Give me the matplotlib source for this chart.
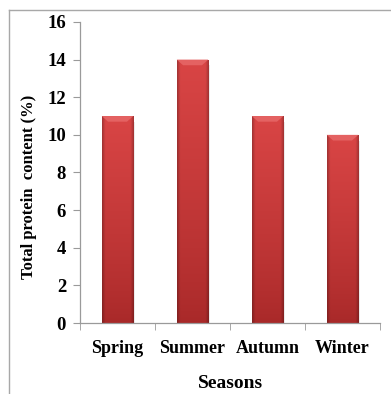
import numpy as np
import matplotlib

matplotlib.use("Agg")
import matplotlib.pyplot as plt
from matplotlib.lines import Line2D
from matplotlib.patches import Polygon

# ----------------- DATA -----------------
seasons = ["Spring", "Summer", "Autumn", "Winter"]
protein = [11, 14, 11, 10]
y_ticks = [0, 2, 4, 6, 8, 10, 12, 14, 16]
# -----------------------------------------

BAR_W = 0.42
AXIS_GRAY = "#9a9a9a"
FONT = "Liberation Serif"

# red fill: darker at the base, a touch darker at the left/right edges
top_rgb = np.array([0.85, 0.27, 0.27])
base_rgb = np.array([0.66, 0.16, 0.16])
v = np.linspace(0, 1, 128)[:, None, None]
u = np.linspace(0, 1, 64)
edge = 1 - 0.25 * (np.clip(1 - u / 0.1, 0, 1) + np.clip((u - 0.9) / 0.1, 0, 1))
rgb = (base_rgb + (top_rgb - base_rgb) * v ** 0.8) * edge[None, :, None]
shade = np.concatenate([rgb, np.ones((128, 64, 1))], axis=2)

fig = plt.figure(figsize=(3.91, 3.94), dpi=100)
ax = fig.add_axes([0.2046, 0.1802, 0.7674, 0.764])

bars = ax.bar(range(len(seasons)), protein, width=BAR_W, color="none", zorder=2)

for b in bars:
    x0, w, h = b.get_x(), b.get_width(), b.get_height()
    im = ax.imshow(shade, extent=[x0, x0 + w, 0, h], origin="lower",
                   aspect="auto", zorder=2, interpolation="bilinear")
    im.set_clip_path(b)
    # bevelled cap on top of each bar
    d, t = w * 0.2, 0.3
    ax.add_patch(Polygon([(x0, h), (x0 + w, h), (x0 + w - d, h - t), (x0 + d, h - t)],
                         closed=True, facecolor="#e46262", edgecolor="none", zorder=3))
    # faint drop shadow on the right
    ax.add_patch(Polygon([(x0 + w, h - t), (x0 + w + 0.02, h - t),
                          (x0 + w + 0.02, 0), (x0 + w, 0)],
                         closed=True, facecolor="#000000", alpha=0.08,
                         edgecolor="none", zorder=1))

ax.set_xlim(-0.5, len(seasons) - 0.5)
ax.set_ylim(0, 16)
ax.set_yticks(y_ticks)
ax.set_yticklabels([str(v) for v in y_ticks], fontfamily=FONT,
                   fontweight="bold", fontsize=13.5)
ax.set_xticks(range(len(seasons)))
ax.set_xticklabels(seasons, fontfamily=FONT, fontweight="bold", fontsize=13)
ax.set_xticks(np.arange(-0.5, len(seasons)), minor=True)
ax.tick_params(axis="x", which="major", length=0, pad=12)
ax.tick_params(axis="x", which="minor", length=5, color=AXIS_GRAY)
ax.tick_params(axis="y", length=5, color=AXIS_GRAY, pad=5)

for s in ("top", "right"):
    ax.spines[s].set_visible(False)
for s in ("left", "bottom"):
    ax.spines[s].set_color(AXIS_GRAY)
    ax.spines[s].set_linewidth(0.9)

ax.set_xlabel("Seasons", fontfamily=FONT, fontweight="bold", fontsize=14,
              labelpad=13)
ax.set_ylabel("Total protein  content (%)", fontfamily=FONT,
              fontweight="bold", fontsize=12)
ax.yaxis.set_label_coords(-0.143, 0.452)

# outer frame (left and top edges visible)
fig.add_artist(Line2D([9 / 391, 9 / 391], [0, 1 - 10 / 394],
                      transform=fig.transFigure, color="#a8a8a8", lw=1))
fig.add_artist(Line2D([9 / 391, 1], [1 - 10 / 394, 1 - 10 / 394],
                      transform=fig.transFigure, color="#a8a8a8", lw=1))

fig.savefig("out.png", dpi=100)
